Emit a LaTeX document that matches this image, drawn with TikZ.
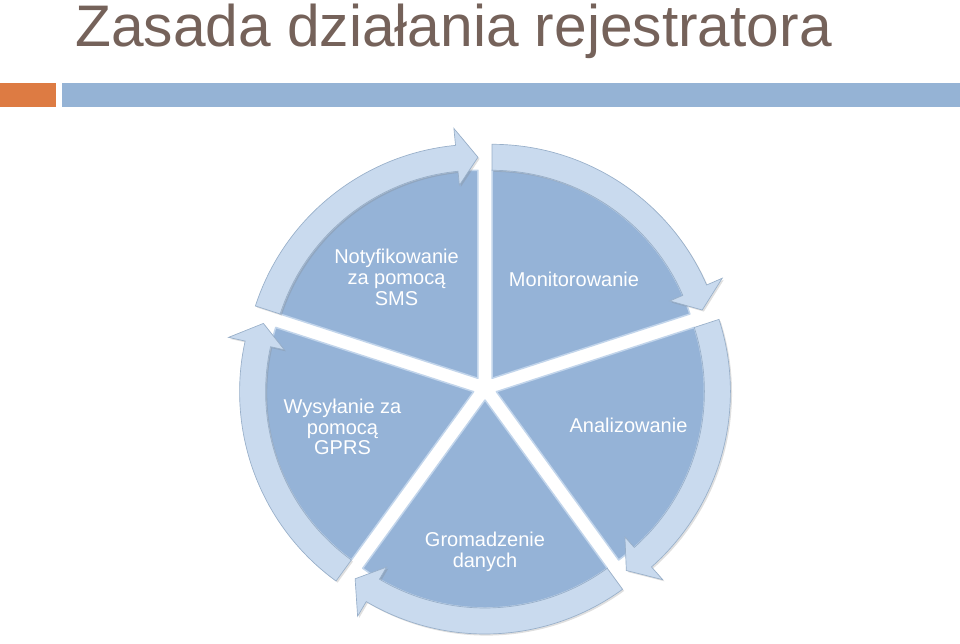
\documentclass[tikz,border=0pt]{standalone}
\usepackage{fontspec}
\setmainfont{Liberation Sans}
\usetikzlibrary{calc,shadows}
\definecolor{titlecol}{HTML}{75625A}
\definecolor{orangebar}{HTML}{DD7B43}
\definecolor{bluebar}{HTML}{95B3D5}
\definecolor{slicefill}{HTML}{95B3D7}
\definecolor{sliceedge}{HTML}{C2D5EB}
\definecolor{arrowfill}{HTML}{C9DAEE}
\definecolor{arrowedge}{HTML}{98AFC9}
\tikzset{
  lbl/.style={text=white, font=\fontsize{15}{15.75}\selectfont, align=center, inner sep=0pt, anchor=base},
  slicestyle/.style={fill=slicefill, draw=sliceedge, line width=1.1pt, line join=round},
  arrowstyle/.style={fill=arrowfill, draw=arrowedge, line width=0.5pt, line join=miter,
     drop shadow={opacity=0.25, shadow xshift=1.2pt, shadow yshift=-1.2pt}}
}
\begin{document}
\begin{tikzpicture}[x=0.75pt,y=0.75pt]
\useasboundingbox (0,0) rectangle (960,643);
% header bars
\fill[orangebar] (0,643-83) rectangle (56,643-107);
\fill[bluebar] (62,643-83) rectangle (960,643-107);
\node[anchor=base west, text=titlecol, font=\fontsize{44}{50}\selectfont, inner sep=0pt] (title) at (75,643-47) {Zasada działania rejestratora};
% pie
\coordinate (O) at (485,255);
\foreach \i/\m in {1/54,2/-18,3/-90,4/-162,5/126} {
  \pgfmathsetmacro\a{\m+36}
  \pgfmathsetmacro\b{\m-36}
  \coordinate (C\i) at ($(O)+(\m:12)$);
  \path[slicestyle] (C\i) -- ($(C\i)+(\a:208)$) arc[start angle=\a, end angle=\b, radius=208] -- cycle;
}
\foreach \i/\m in {1/54,2/-18,3/-90,4/-162,5/126} {
  \pgfmathsetmacro\a{\m+36}
  \pgfmathsetmacro\b{\m-36}
  \pgfmathsetmacro\h{\m-30.5}
  \path[arrowstyle] ($(C\i)+(\a:208)$) arc[start angle=\a, end angle=\h, radius=208]
     -- ($(C\i)+(\h:194)$) -- ($(C\i)+(\b:221)$) -- ($(C\i)+(\h:251)$)
     -- ($(C\i)+(\h:234)$) arc[start angle=\h, end angle=\a, radius=234] -- cycle;
}
% labels (anchored at the baseline of the last line)
\node[lbl] (monit) at (574,643-286.5) {Monitorowanie};
\node[lbl] (anal) at (628.5,643-433) {Analizowanie};
\node[lbl] (groma) at (485,643-567) {Gromadzenie\\danych};
\node[lbl] (wysy) at (342.5,643-455) {Wysyłanie za\\pomocą\\GPRS};
\node[lbl] (notif) at (396.5,643-306) {Notyfikowanie\\za pomocą\\SMS};
\end{tikzpicture}
\end{document}
